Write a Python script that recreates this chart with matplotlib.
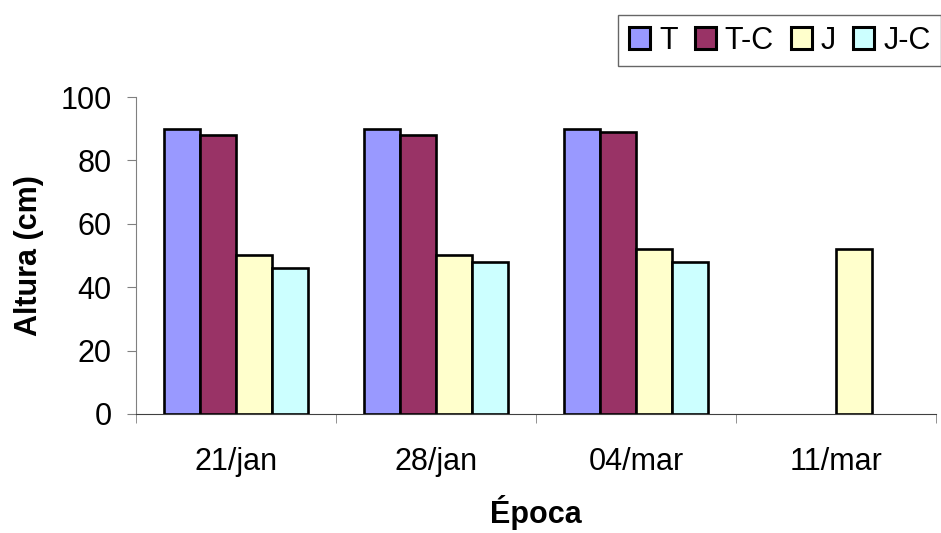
import matplotlib
matplotlib.use("Agg")
import matplotlib.pyplot as plt
import numpy as np

plt.rcParams["font.family"] = ["Liberation Sans", "DejaVu Sans"]

epocas = ["21/jan", "28/jan", "04/mar", "11/mar"]
series = ["T", "T-C", "J", "J-C"]
valores_T = [90, 90, 90, np.nan]
valores_TC = [88, 88, 89, np.nan]
valores_J = [50, 50, 52, 52]
valores_JC = [46, 48, 48, np.nan]
cores = ["#9999FF", "#993366", "#FFFFCC", "#CCFFFF"]

fig = plt.figure(figsize=(9.41, 5.33), dpi=100)
ax = fig.add_axes([0.1445, 0.2233, 0.85, 0.5947])

x = np.arange(len(epocas))
largura = 0.18
dados = [valores_T, valores_TC, valores_J, valores_JC]
for i, (nome, vals, cor) in enumerate(zip(series, dados, cores)):
    ax.bar(x + (i - 1.5) * largura, vals, largura, color=cor,
           edgecolor="black", linewidth=1.9, label=nome, zorder=3)

ax.set_xlim(-0.5, len(epocas) - 0.5)
ax.set_ylim(0, 100)
ax.set_yticks(range(0, 101, 20))
ax.set_xticks(x)
ax.set_xticklabels(epocas)
ax.set_xticks(np.arange(-0.5, len(epocas)), minor=True)
ax.tick_params(axis="x", which="major", length=0, labelsize=22, pad=24)
ax.tick_params(axis="x", which="minor", length=6.5, direction="out", color="#808080")
ax.tick_params(axis="y", length=6.5, direction="out", color="#808080", labelsize=22, pad=11)

for lado in ("top", "right"):
    ax.spines[lado].set_visible(False)
ax.spines["left"].set_color("#808080")
ax.spines["bottom"].set_color("#404040")

ax.set_ylabel("Altura (cm)", fontsize=22, fontweight="bold", labelpad=12)
ax.set_xlabel("Época", fontsize=22, fontweight="bold", labelpad=13)

leg = fig.legend(loc="upper left", bbox_to_anchor=(0.657, 0.972), ncol=4,
                 fontsize=22, frameon=True, fancybox=False, edgecolor="#404040",
                 handlelength=0.69, handleheight=0.69, handletextpad=0.3,
                 columnspacing=0.55, borderpad=0.35, borderaxespad=0)
leg.get_frame().set_linewidth(1.0)
for h in leg.legend_handles:
    h.set_linewidth(2.2)

fig.savefig("out.png", dpi=100)
